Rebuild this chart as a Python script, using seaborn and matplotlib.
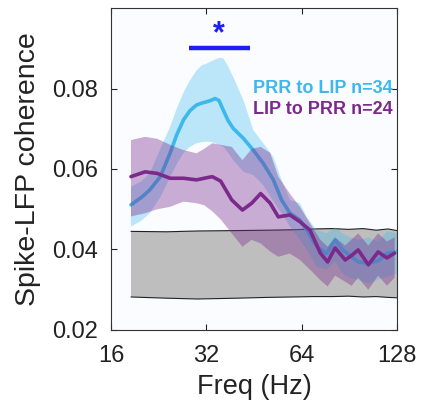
import numpy as np
import pandas as pd
import matplotlib
matplotlib.use("Agg")
import matplotlib.pyplot as plt
import seaborn as sns

# ---------------- data ----------------
prr_freq = [18.5, 20.0, 21.2, 22.9, 24.6, 25.8, 27.1, 28.4, 29.8, 31.0, 32.1, 33.2,
            34.1, 35.1, 36.2, 37.5, 38.9, 41.9, 45.0, 48.4, 52.1, 55.3, 58.8, 63.2,
            66.4, 71.4, 76.7, 81.6, 86.0, 91.0, 96.5, 103.9, 111.6, 119.0, 127.8]
prr_mean = [0.0511, 0.0530, 0.0548, 0.0581, 0.0640, 0.0685, 0.0722, 0.0745, 0.0759,
            0.0764, 0.0767, 0.0771, 0.0775, 0.0770, 0.0746, 0.0720, 0.0701, 0.0676,
            0.0647, 0.0614, 0.0573, 0.0523, 0.0490, 0.0473, 0.0448, 0.0407, 0.0390,
            0.0424, 0.0400, 0.0385, 0.0369, 0.0366, 0.0372, 0.0390, 0.0395]
prr_upper = [0.0556, 0.0570, 0.0589, 0.0650, 0.0705, 0.0750, 0.0790, 0.0820, 0.0845,
             0.0858, 0.0862, 0.0868, 0.0872, 0.0876, 0.0875, 0.0855, 0.0829, 0.0771,
             0.0697, 0.0664, 0.0630, 0.0573, 0.0523, 0.0515, 0.0481, 0.0448, 0.0440,
             0.0455, 0.0440, 0.0430, 0.0424, 0.0430, 0.0420, 0.0445, 0.0440]
prr_lower = [0.0457, 0.0472, 0.0490, 0.0530, 0.0580, 0.0612, 0.0640, 0.0655, 0.0664,
             0.0667, 0.0668, 0.0667, 0.0664, 0.0660, 0.0655, 0.0640, 0.0622, 0.0593,
             0.0585, 0.0560, 0.0520, 0.0490, 0.0457, 0.0424, 0.0400, 0.0357, 0.0350,
             0.0370, 0.0341, 0.0330, 0.0324, 0.0316, 0.0325, 0.0332, 0.0340]

lip_freq = [18.5, 20.5, 22.4, 24.6, 27.1, 29.8, 31.5, 33.4, 35.5, 38.5, 41.6, 44.5,
            47.5, 50.9, 54.0, 58.7, 63.2, 68.0, 73.3, 77.3, 81.6, 87.8, 92.0, 96.5,
            103.9, 111.6, 119.0, 125.8]
lip_mean = [0.0581, 0.0593, 0.0589, 0.0577, 0.0577, 0.0573, 0.0577, 0.0581, 0.0570,
            0.0523, 0.0498, 0.0515, 0.0539, 0.0515, 0.0481, 0.0486, 0.0469, 0.0448,
            0.0391, 0.0369, 0.0404, 0.0374, 0.0385, 0.0399, 0.0362, 0.0394, 0.0379,
            0.0391]
lip_upper = [0.0672, 0.0680, 0.0675, 0.0660, 0.0647, 0.0639, 0.0650, 0.0664, 0.0660,
             0.0655, 0.0622, 0.0650, 0.0655, 0.0640, 0.0581, 0.0539, 0.0506, 0.0465,
             0.0424, 0.0407, 0.0430, 0.0410, 0.0425, 0.0440, 0.0410, 0.0440, 0.0420,
             0.0430]
lip_lower = [0.0482, 0.0490, 0.0500, 0.0506, 0.0519, 0.0515, 0.0510, 0.0495, 0.0475,
             0.0440, 0.0407, 0.0424, 0.0415, 0.0395, 0.0382, 0.0390, 0.0374, 0.0350,
             0.0324, 0.0308, 0.0335, 0.0320, 0.0310, 0.0330, 0.0300, 0.0335, 0.0310,
             0.0330]

null_freq = [18.5, 24.0, 30.0, 40.0, 50.0, 60.0, 70.0, 80.0, 90.0, 100.0, 110.0, 120.0, 128.0]
null_upper = [0.0445, 0.0444, 0.0446, 0.0447, 0.0448, 0.0449, 0.0451, 0.0452, 0.0450,
              0.0452, 0.0448, 0.0451, 0.0447]
null_lower = [0.0282, 0.0279, 0.0277, 0.0279, 0.0281, 0.0282, 0.0283, 0.0283, 0.0284,
              0.0282, 0.0283, 0.0281, 0.0280]

sig_freq = [28.3, 44.0]
sig_level = 0.090
star_freq = 35.1
star_level = 0.0935

labels = ["PRR to LIP n=34", "LIP to PRR n=24"]
x_ticks = [16, 32, 64, 128]
y_ticks = [0.02, 0.04, 0.06, 0.08]

# ---------------- styling ----------------
sns.set_theme(style="ticks")
plt.rcParams["font.family"] = ["Liberation Sans", "DejaVu Sans"]

cyan = "#3DB8EA"
purple = "#7B2A8C"

fig = plt.figure(figsize=(4.21, 4.13), dpi=100)
ax = fig.add_axes([0.2637, 0.201, 0.6793, 0.7796])
ax.set_facecolor("#FAFCFF")

# null band
ax.fill_between(null_freq, null_lower, null_upper, facecolor="#BEBEBE",
                edgecolor="none", zorder=1)
ax.plot(null_freq, null_upper, color="#222222", lw=0.8, zorder=1.5)
ax.plot(null_freq, null_lower, color="#222222", lw=0.8, zorder=1.5)

df_prr = pd.DataFrame({"freq": prr_freq, "coh": prr_mean})
df_lip = pd.DataFrame({"freq": lip_freq, "coh": lip_mean})

ax.fill_between(prr_freq, prr_lower, prr_upper, facecolor=cyan, alpha=0.33,
                edgecolor="none", zorder=2)
sns.lineplot(data=df_prr, x="freq", y="coh", ax=ax, color=cyan, lw=2.6,
             zorder=3, estimator=None, sort=False, solid_joinstyle="round")
ax.fill_between(lip_freq, lip_lower, lip_upper, facecolor=purple, alpha=0.38,
                edgecolor="none", zorder=4)
sns.lineplot(data=df_lip, x="freq", y="coh", ax=ax, color=purple, lw=2.6,
             zorder=5, estimator=None, sort=False, solid_joinstyle="round")

# significance
ax.plot(sig_freq, [sig_level, sig_level], color="#1F1FF5", lw=3.2,
        solid_capstyle="butt", zorder=6)
ax.text(star_freq, star_level, "*", color="#1F1FF5", fontsize=22,
        fontweight="bold", ha="center", va="center", zorder=6)

# labels inside
ax.text(124, 0.0799, labels[0], color=cyan, fontsize=13, fontweight="bold",
        ha="right", va="center", zorder=7)
ax.text(124, 0.0747, labels[1], color=purple, fontsize=13, fontweight="bold",
        ha="right", va="center", zorder=7)

ax.set_xscale("log", base=2)
ax.set_xlim(16, 128)
ax.set_ylim(0.02, 0.1)
ax.set_xticks(x_ticks)
ax.set_xticklabels([str(t) for t in x_ticks])
ax.xaxis.set_minor_locator(matplotlib.ticker.NullLocator())
ax.set_yticks(y_ticks)
ax.set_yticklabels([f"{t:.2f}" for t in y_ticks])

ax.tick_params(axis="both", which="major", direction="in", length=4, width=0.8,
               top=True, right=True, labelsize=17, colors="#222222", pad=9.5)
ax.tick_params(axis="x", pad=11)
for s in ax.spines.values():
    s.set_visible(True)
    s.set_color("#333333")
    s.set_linewidth(0.8)

ax.set_xlabel("Freq (Hz)", fontsize=19.5, color="#222222", labelpad=5)
ax.set_ylabel("Spike-LFP coherence", fontsize=20.5, color="#222222", labelpad=8)

fig.savefig("out.png", dpi=100, facecolor="white")
